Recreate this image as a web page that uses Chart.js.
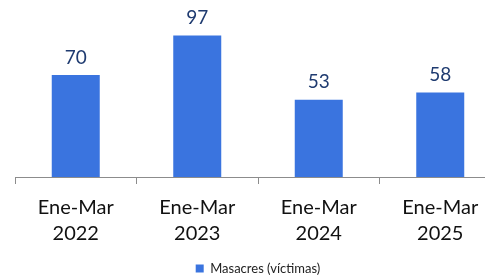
<!DOCTYPE html>
<html>
<head>
<meta charset="utf-8">
<script src="https://cdn.jsdelivr.net/npm/chart.js@4.4.1/dist/chart.umd.min.js"></script>
<style>
  html, body { margin: 0; padding: 0; background: #fff; overflow: hidden; }
  #wrap { width: 522px; height: 285px; }
</style>
</head>
<body>
<div id="wrap"><canvas id="myChart"></canvas></div>
<script>
const categories = [['Ene-Mar', '2022'], ['Ene-Mar', '2023'], ['Ene-Mar', '2024'], ['Ene-Mar', '2025']];
const victims = [70, 97, 53, 58];
const seriesName = 'Masacres (víctimas)';

// labels above bars, no datalabels plugin available offline
const valueLabels = {
    id: 'valueLabels',
    afterDatasetsDraw(chart) {
        const c = chart.ctx;
        const meta = chart.getDatasetMeta(0);
        c.save();
        c.fillStyle = '#1F3B70';
        c.font = '19px Lato';
        c.textAlign = 'center';
        c.textBaseline = 'bottom';
        meta.data.forEach((bar, i) => {
            c.fillText(victims[i], bar.x, bar.y - 8);
        });
        c.restore();
    }
};

const ctx = document.getElementById('myChart');

new Chart(ctx, {
    type: 'bar',
    data: {
        labels: categories,
        datasets: [{
            label: seriesName,
            data: victims,
            backgroundColor: '#3A74DF',
            borderWidth: 0,
            categoryPercentage: 1,
            barPercentage: 0.395
        }]
    },
    options: {
        responsive: true,
        maintainAspectRatio: false,
        animation: false,
        layout: { padding: { left: 15, right: 21, top: 2, bottom: 0 } },
        scales: {
            y: {
                display: false,
                min: 0,
                max: 120
            },
            x: {
                afterFit: (scale) => { scale.height += 1; },
                grid: {
                    drawOnChartArea: false,
                    offset: true,
                    tickLength: 7,
                    color: '#8C8C8C'
                },
                border: { color: '#8C8C8C', width: 1 },
                ticks: {
                    color: '#111',
                    font: { family: 'Lato', size: 20, lineHeight: 1.3 },
                    padding: 11,
                    maxRotation: 0
                }
            }
        },
        plugins: {
            legend: {
                position: 'bottom',
                labels: {
                    color: '#222',
                    font: { family: 'Lato', size: 13 },
                    boxWidth: 8,
                    boxHeight: 8,
                    padding: 3
                }
            },
            tooltip: { enabled: false }
        }
    },
    plugins: [valueLabels]
});
</script>
</body>
</html>
